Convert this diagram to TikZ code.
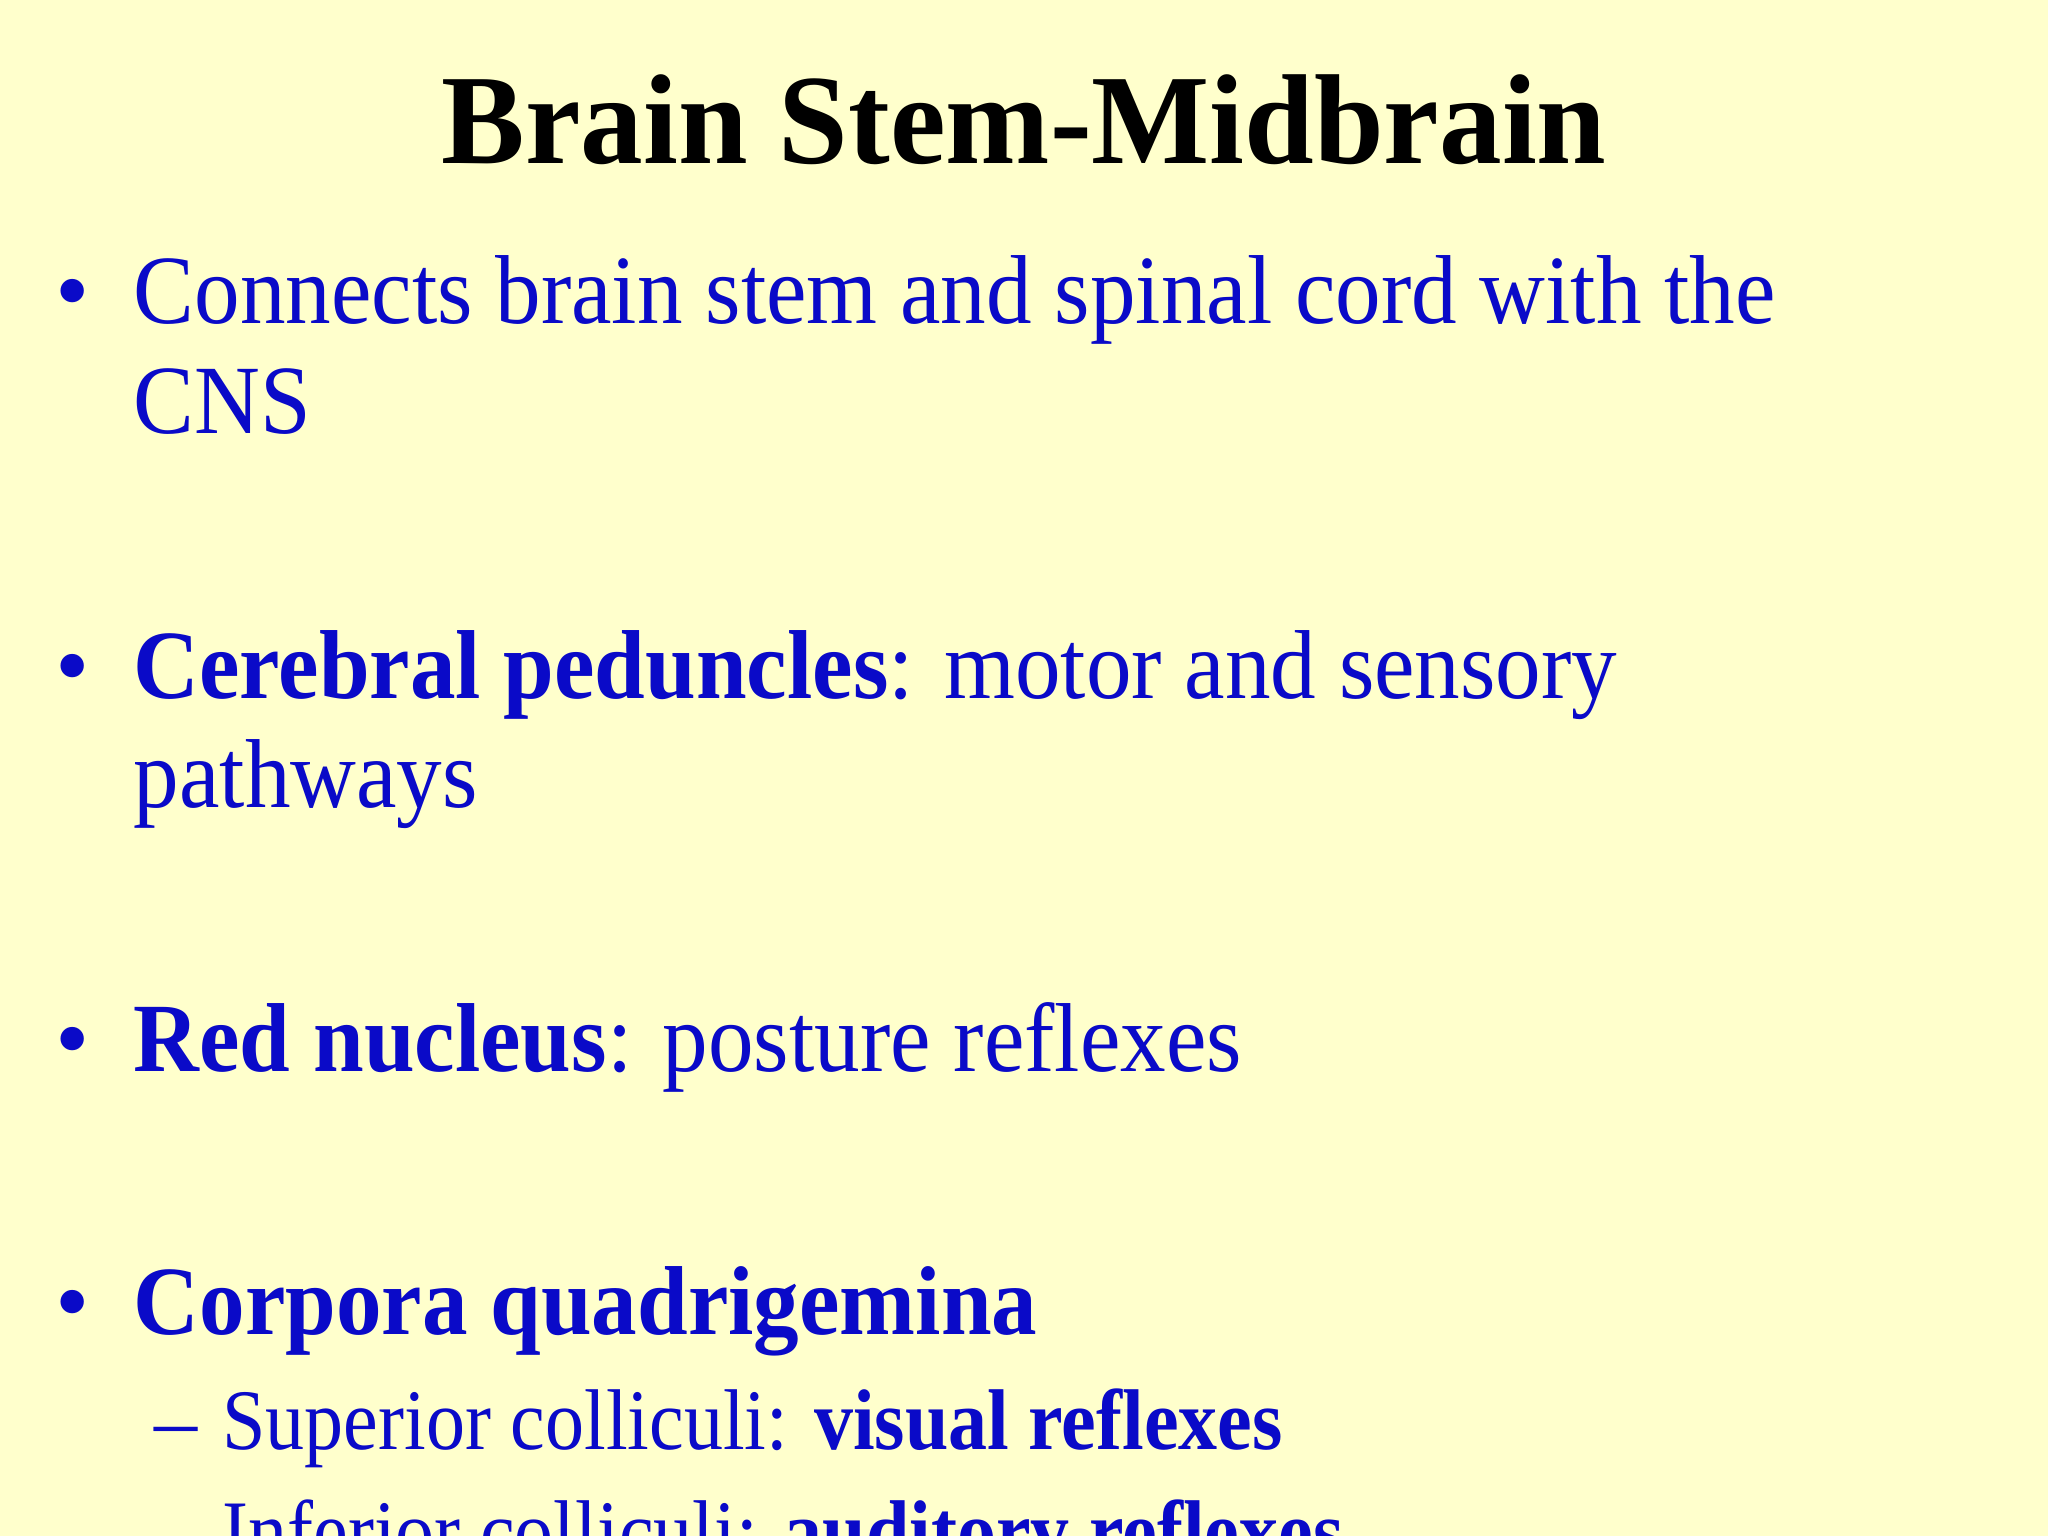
\documentclass[tikz,border=0pt]{standalone}
\usepackage{fontspec}
\usepackage{graphicx}
\setmainfont{Liberation Serif}
\definecolor{bg}{HTML}{FFFFCC}
\definecolor{tb}{HTML}{0A0AC8}
\newcommand{\sxa}[1]{\scalebox{0.93}[1]{#1}}
\newcommand{\sxb}[1]{\scalebox{0.905}[1]{#1}}
\begin{document}
\begin{tikzpicture}[x=0.5pt,y=-0.5pt,
  txt/.style={anchor=base west,inner sep=0,text=tb,font=\fontsize{37.5}{45}\selectfont},
  sub/.style={anchor=base west,inner sep=0,text=tb,font=\fontsize{33}{40}\selectfont}]
\useasboundingbox (0,0) rectangle (1568,1176);
\clip (0,0) rectangle (1568,1176);
\fill[bg] (0,0) rectangle (1568,1176);
\node[anchor=base,inner sep=0,font=\fontsize{49}{58}\selectfont\bfseries] (title) at (784,125) {\scalebox{0.978}[1]{Brain Stem-Midbrain}};
\node[txt] (b1) at (42,248) {•};
\node[txt] (t1) at (102,248) {\sxa{Connects brain stem and spinal cord with the}};
\node[txt] (t1b) at (102,332) {\sxa{CNS}};
\node[txt] (b2) at (42,535) {•};
\node[txt] (t2) at (102,535) {\sxa{\textbf{Cerebral peduncles}: motor and sensory}};
\node[txt] (t2b) at (102,618) {\sxa{pathways}};
\node[txt] (b3) at (42,820) {•};
\node[txt] (t3) at (102,820) {\sxa{\textbf{Red nucleus}: posture reflexes}};
\node[txt] (b4) at (42,1022) {•};
\node[txt] (t4) at (102,1022) {\sxa{\textbf{Corpora quadrigemina}}};
\node[sub] (d1) at (118,1110) {–};
\node[sub] (s1) at (170,1110) {\sxb{Superior colliculi: \textbf{visual reflexes}}};
\node[sub] (d2) at (118,1195) {–};
\node[sub] (s2) at (170,1195) {\sxb{Inferior colliculi: \textbf{auditory reflexes}}};
\end{tikzpicture}
\end{document}
